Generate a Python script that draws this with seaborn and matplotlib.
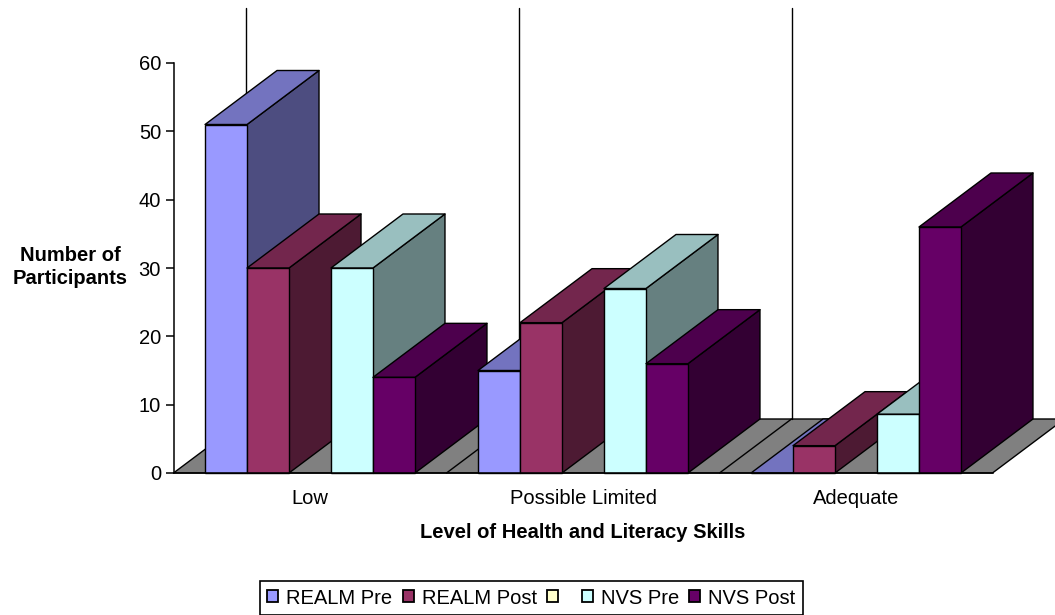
import numpy as np
import pandas as pd
import seaborn as sns
from matplotlib import pyplot as plt
from matplotlib.colors import to_rgb
from matplotlib.patches import Patch, Polygon

categories = ["Low", "Possible Limited", "Adequate"]
series_names = ["REALM Pre", "REALM Post", " ", "NVS Pre", "NVS Post"]
realm_pre = [51, 15, 0]
realm_post = [30, 22, 4]
blank_series = [np.nan, np.nan, np.nan]
nvs_pre = [30, 27, 8.6]
nvs_post = [14, 16, 36]
colors = ["#9999FF", "#993366", "#FFFFCC", "#CCFFFF", "#660066"]

W, H = 1055, 615
LEFT, RIGHT, TOP, BOTTOM = 173.5, 992.5, 63, 473
DEPTH_X, DEPTH_Y = 72, 54  # 3d depth in pixels
FS = 14.5

sns.set_theme(style="white")
plt.rcParams["font.family"] = ["Liberation Sans", "DejaVu Sans"]
plt.rcParams["axes.edgecolor"] = "black"

rows = []
for name, vals in zip(series_names, [realm_pre, realm_post, blank_series, nvs_pre, nvs_post]):
    for cat, v in zip(categories, vals):
        rows.append({"level": cat, "series": name, "count": v})
df = pd.DataFrame(rows)

fig = plt.figure(figsize=(W / 100, H / 100), dpi=100)
ax = fig.add_axes([LEFT / W, 1 - BOTTOM / H, (RIGHT - LEFT) / W, (BOTTOM - TOP) / H])
sns.barplot(data=df, x="level", y="count", hue="series", hue_order=series_names,
            palette=colors, width=0.769, gap=0, saturation=1, legend=False, ax=ax,
            edgecolor="black", linewidth=1.0, zorder=10)
ax.set_xlim(-0.5, 2.5)
ax.set_ylim(0, 60)
ddx = DEPTH_X / (RIGHT - LEFT) * 3
ddy = DEPTH_Y / (BOTTOM - TOP) * 60


def shade(color, k):
    return tuple(c * k for c in to_rgb(color))


def add_poly(pts, color, z):
    ax.add_patch(Polygon(pts, closed=True, facecolor=color, edgecolor="black",
                         linewidth=1.0, clip_on=False, zorder=z, joinstyle="round"))


# floor and back dividers
add_poly([(-0.5, 0), (2.5, 0), (2.5 + ddx, ddy), (-0.5 + ddx, ddy)], "#808080", 2)
for b in [-0.5, 0.5, 1.5]:
    ax.plot([b + ddx, b + ddx], [ddy, 68], color="black", lw=1.0, clip_on=False, zorder=3)
for b in [0.5, 1.5]:
    ax.plot([b, b + ddx], [0, ddy], color="black", lw=1.0, clip_on=False, zorder=3)

# side and top faces, left to right so the nearer bars cover the ones behind
bars = [p for p in ax.patches if isinstance(p, plt.Rectangle) and not np.isnan(p.get_height())]
bars = sorted(bars, key=lambda p: p.get_x())
for i, bar in enumerate(bars):
    x0, w, h = bar.get_x(), bar.get_width(), bar.get_height()
    col = bar.get_facecolor()[:3]
    z = 10 + i * 3
    add_poly([(x0 + w, 0), (x0 + w + ddx, ddy), (x0 + w + ddx, h + ddy), (x0 + w, h)], shade(col, 0.5), z)
    add_poly([(x0, h), (x0 + w, h), (x0 + w + ddx, h + ddy), (x0 + ddx, h + ddy)], shade(col, 0.75), z + 1)
    bar.set_zorder(z + 2)
    bar.set_clip_on(False)

sns.despine(ax=ax, top=True, right=True)
for s in ["left", "bottom"]:
    ax.spines[s].set_linewidth(1.1)
    ax.spines[s].set_zorder(200)
ax.set_yticks(range(0, 61, 10))
ax.tick_params(axis="y", left=True, length=6, width=1.1, labelsize=FS, pad=3, colors="black")
ax.tick_params(axis="x", bottom=False, labelsize=FS, pad=5.5, colors="black")

ax.set_ylabel("Number of\nParticipants", rotation=0, fontsize=FS, fontweight="bold",
              color="black", ha="center", va="center", linespacing=1.3)
ax.yaxis.set_label_coords((70 - LEFT) / (RIGHT - LEFT), (BOTTOM - 267) / (BOTTOM - TOP))
ax.set_xlabel("Level of Health and Literacy Skills", fontsize=FS, fontweight="bold", color="black")
ax.xaxis.set_label_coords((583 - LEFT) / (RIGHT - LEFT), (BOTTOM - 533) / (BOTTOM - TOP))
ax.xaxis.label.set_va("center")

handles = [Patch(facecolor=c, edgecolor="black", linewidth=1.3) for c in colors]
leg = fig.legend(handles, series_names, ncol=5, loc="center", bbox_to_anchor=(531.5 / W, 1 - 598 / H),
                 fontsize=FS, frameon=True, fancybox=False, edgecolor="black", framealpha=1,
                 labelcolor="black", handlelength=0.55, handleheight=0.55, handletextpad=0.4,
                 columnspacing=0.5, borderpad=0.35, borderaxespad=0)
leg.get_frame().set_linewidth(1.2)

plt.savefig("out.png", dpi=100)
